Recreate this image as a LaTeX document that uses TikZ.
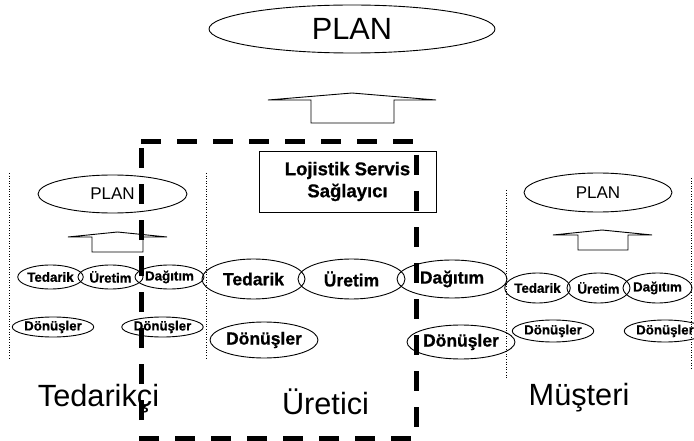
\documentclass[tikz,border=0pt]{standalone}
\usepackage{fontspec}
\setmainfont{Liberation Sans}[BoldFeatures={FakeBold=0.8}]
\usetikzlibrary{shapes.geometric}
\begin{document}
\begin{tikzpicture}[x=1pt,y=-1pt,
  ell/.style={draw,ellipse,inner sep=0pt,line width=0.9pt},
  blockarrow/.style={draw,line width=0.9pt,line join=miter},
  sepline/.style={draw,line width=0.6pt,dotted},
  dashbox/.style={draw,line width=5pt,dash pattern=on 20pt off 16pt},
  bigf/.style={font=\fontsize{30.7}{36}\selectfont},
  medf/.style={font=\fontsize{17}{20}\selectfont},
  smallb/.style={font=\bfseries\fontsize{13.3}{15}\selectfont},
  midb/.style={font=\bfseries\fontsize{17.5}{20}\selectfont},
  label/.style={inner sep=0pt,anchor=base,font=\fontsize{30.7}{36}\selectfont}]
\useasboundingbox (0,0) rectangle (694,441);

% top plan
\node[ell,minimum width=286pt,minimum height=48pt,bigf] (plan) at (352,29) {PLAN};
\draw[blockarrow] (268,100) -- (352,93) -- (436,100) -- (394,100) -- (394,123) -- (311,123) -- (311,100) -- cycle;

% separators
\draw[sepline] (9,173) -- (9,360);
\draw[sepline] (206,173) -- (206,360);
\draw[sepline] (506,190) -- (506,378);
\draw[sepline] (691,178) -- (691,368);

% left group (Tedarikci)
\node[ell,minimum width=149pt,minimum height=38pt,medf] (lplan) at (112.5,194) {PLAN};
\draw[blockarrow] (68,237) -- (117.5,232) -- (167,237) -- (143,237) -- (143,252) -- (92,252) -- (92,237) -- cycle;
\node[ell,minimum width=65pt,minimum height=24pt,smallb] (lted) at (50.5,277) {Tedarik};
\node[ell,minimum width=65pt,minimum height=24pt,smallb] (lure) at (110.5,277) {Üretim};
\node[ell,minimum width=65pt,minimum height=24pt,smallb] (ldag) at (169.5,277) {Dağıtım};
\node[ell,minimum width=70pt,minimum height=20pt,smallb] (ldon1) at (53,327) {Dönüşler};
\node[ell,minimum width=69pt,minimum height=20pt,smallb] (ldon2) at (162.5,327) {Dönüşler};

% middle group (Uretici)
\node[draw,line width=0.9pt,minimum width=177pt,minimum height=61pt,inner sep=0pt,
      align=center,font=\bfseries\fontsize{18.5}{22}\selectfont] (lsp) at (347.5,181.5) {Lojistik Servis\\Sağlayıcı};
\node[ell,minimum width=103pt,minimum height=40pt,midb] (mted) at (253.5,279) {Tedarik};
\node[ell,minimum width=107pt,minimum height=40pt,midb] (mure) at (351.5,279) {Üretim};
\node[ell,minimum width=110pt,minimum height=38pt,midb] (mdag) at (452,279) {Dağıtım};
\node[ell,minimum width=108pt,minimum height=36pt,midb] (mdon1) at (264,340) {Dönüşler};
\node[ell,minimum width=108pt,minimum height=34pt,midb] (mdon2) at (461,342) {Dönüşler};

% right group (Musteri)
\node[ell,minimum width=148pt,minimum height=39pt,medf] (rplan) at (598,192.5) {PLAN};
\draw[blockarrow] (553,235) -- (602,230) -- (652,235) -- (628,235) -- (628,250) -- (578,250) -- (578,235) -- cycle;
\node[ell,minimum width=65pt,minimum height=30pt,smallb] (rted) at (537.5,288) {Tedarik};
\node[ell,minimum width=63pt,minimum height=30pt,smallb] (rure) at (598.5,288) {Üretim};
\node[ell,minimum width=65pt,minimum height=30pt,smallb] (rdag) at (657.5,288) {Dağıtım};
\node[ell,minimum width=63pt,minimum height=22pt,smallb] (rdon1) at (553,331) {Dönüşler};
\node[ell,minimum width=63pt,minimum height=22pt,smallb] (rdon2) at (665,331) {Dönüşler};

% big labels
\node[label] (ted) at (98.5,406) {Tedarikçi};
\node[label] (ure) at (325.5,414) {Üretici};
\node[label] (mus) at (579,405) {Müşteri};

% dashed boundary
\draw[dashbox] (141,142) -- (416,142) -- (416,438) -- (141,438) -- cycle;
\end{tikzpicture}
\end{document}
